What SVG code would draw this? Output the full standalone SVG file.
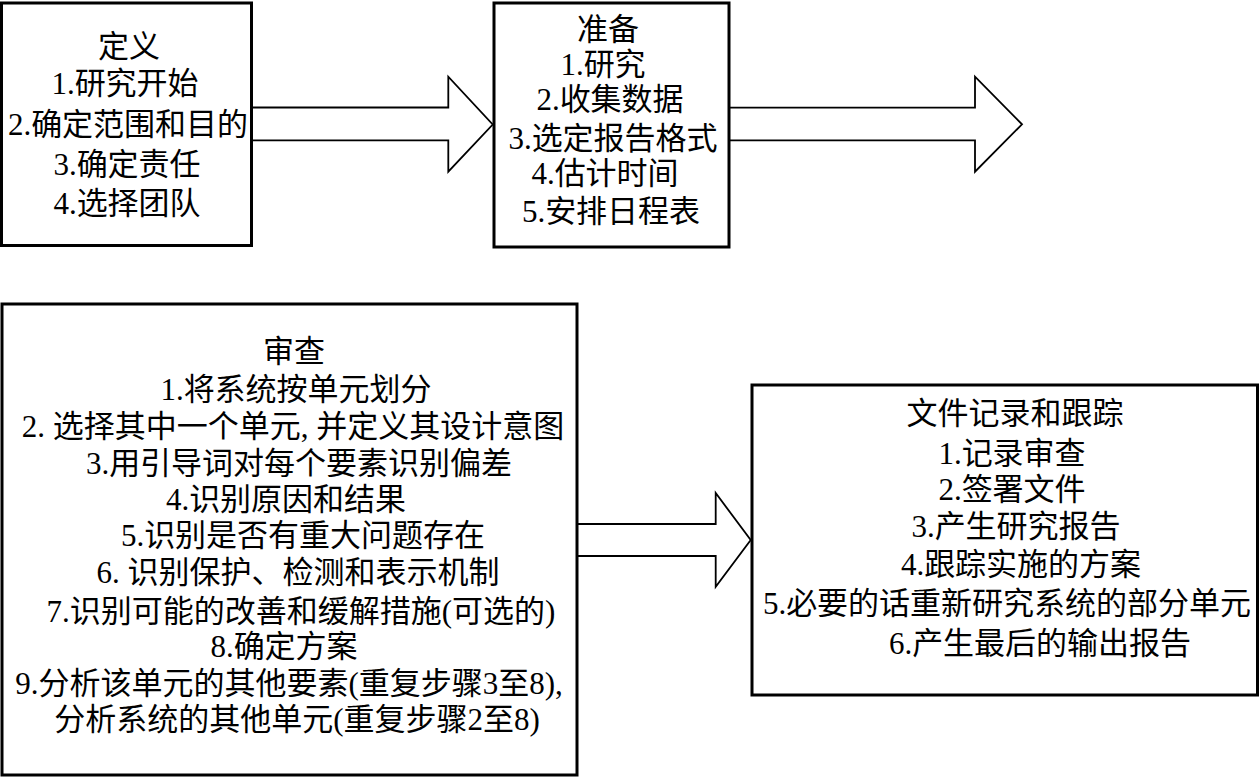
<svg xmlns="http://www.w3.org/2000/svg" width="1260" height="779" viewBox="0 0 1260 779">
<style>
.box{fill:#fff;stroke:#000;stroke-width:3}
.arr{fill:#fff;stroke:#000;stroke-width:1.8;stroke-linejoin:miter}
text{font-family:"Liberation Serif","Noto Sans CJK SC",serif;font-size:31px;fill:#000;text-anchor:middle}
</style>
<rect width="1260" height="779" fill="#fff"/>
<g id="connectors">
<path class="arr" d="M252,107.5 H448.3 V76.7 L492.7,124.5 L448.3,171.7 V140.3 H252"/>
<path class="arr" d="M729,107.7 H975 V76.7 L1022,124.3 L975,171.7 V140.3 H729"/>
<path class="arr" d="M577,524 H715.7 V493 L750.7,540 L715.7,586.7 V556 H577"/>
</g>
<g id="node-define">
<rect class="box" x="1.5" y="3" width="250" height="242.5"/>
<text x="129" y="57">定义</text>
<text x="125" y="94">1.研究开始</text>
<text x="128" y="135">2.确定范围和目的</text>
<text x="127" y="175">3.确定责任</text>
<text x="127" y="214">4.选择团队</text>
</g>
<g id="node-prepare">
<rect class="box" x="494" y="3" width="235" height="244"/>
<text x="608" y="40">准备</text>
<text x="603" y="75">1.研究</text>
<text x="610" y="110">2.收集数据</text>
<text x="613" y="149">3.选定报告格式</text>
<text x="605" y="184">4.估计时间</text>
<text x="611" y="222">5.安排日程表</text>
</g>
<g id="node-review">
<rect class="box" x="2" y="304" width="575" height="471"/>
<text x="294" y="362">审查</text>
<text x="296" y="400">1.将系统按单元划分</text>
<text x="293" y="437">2. 选择其中一个单元, 并定义其设计意图</text>
<text x="299" y="474">3.用引导词对每个要素识别偏差</text>
<text x="286" y="510">4.识别原因和结果</text>
<text x="303" y="546">5.识别是否有重大问题存在</text>
<text x="298" y="583">6. 识别保护、检测和表示机制</text>
<text x="301" y="622">7.识别可能的改善和缓解措施(可选的)</text>
<text x="284" y="657">8.确定方案</text>
<text x="289" y="694">9.分析该单元的其他要素(重复步骤3至8),</text>
<text x="297" y="730">分析系统的其他单元(重复步骤2至8)</text>
</g>
<g id="node-document">
<rect class="box" x="752" y="385" width="505.5" height="310"/>
<text x="1015" y="424">文件记录和跟踪</text>
<text x="1012" y="464">1.记录审查</text>
<text x="1012" y="500">2.签署文件</text>
<text x="1016" y="537">3.产生研究报告</text>
<text x="1021" y="575">4.跟踪实施的方案</text>
<text x="1007" y="614">5.必要的话重新研究系统的部分单元</text>
<text x="1040" y="654">6.产生最后的输出报告</text>
</g>
</svg>
